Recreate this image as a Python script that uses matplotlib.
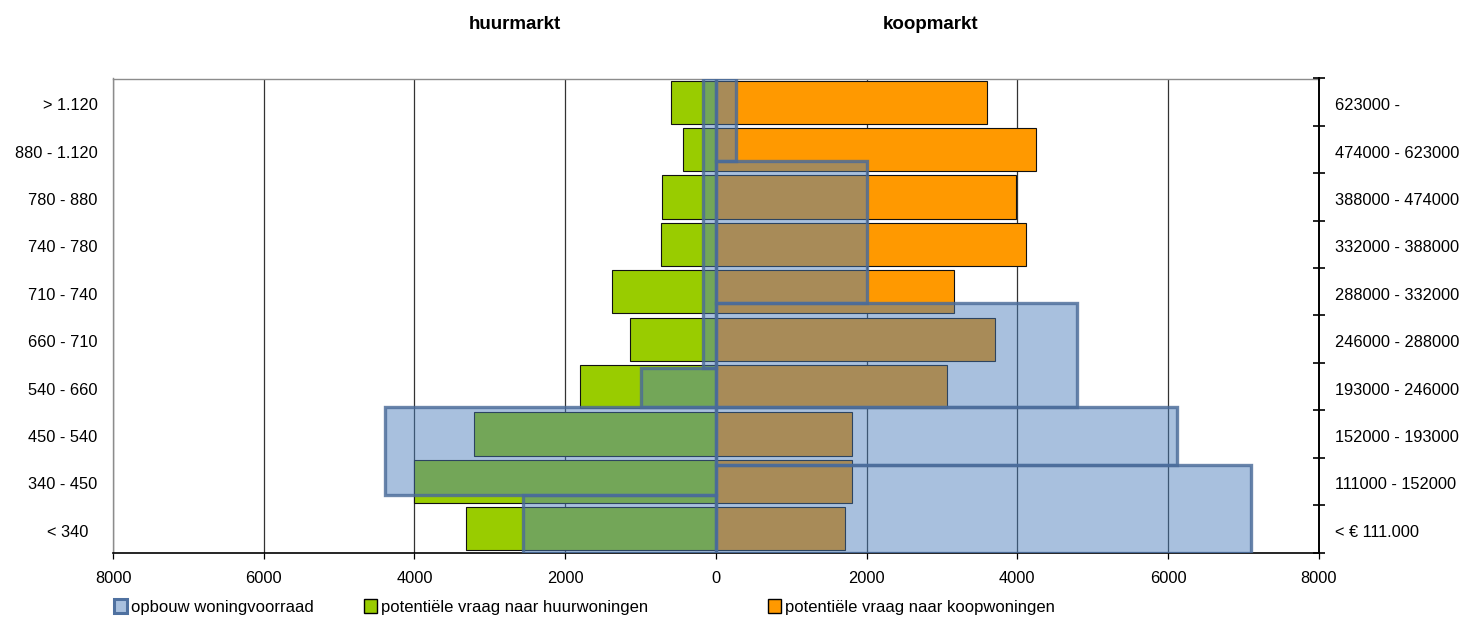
import numpy as np
import matplotlib
matplotlib.use("Agg")
import matplotlib.pyplot as plt
from matplotlib.patches import Patch
from matplotlib.transforms import ScaledTranslation

plt.rcParams['font.family'] = ['Liberation Sans', 'DejaVu Sans']

# Price classes, bottom to top
rent_classes = ["< 340", "340 - 450", "450 - 540", "540 - 660", "660 - 710",
                "710 - 740", "740 - 780", "780 - 880", "880 - 1.120", "> 1.120"]
buy_classes = ["< € 111.000", "111000 - 152000", "152000 - 193000", "193000 - 246000",
               "246000 - 288000", "288000 - 332000", "332000 - 388000",
               "388000 - 474000", "474000 - 623000", "623000 -"]

# Potential demand per class
rent_demand = [3320, 4010, 3210, 1800, 1140, 1380, 730, 720, 430, 600]
buy_demand = [1710, 1800, 1800, 3060, 3710, 3160, 4110, 3980, 4250, 3600]

# Existing housing stock, grouped in classes whose bounds are given in class-axis units
rent_stock = [2560, 4390, 1000, 170]
rent_stock_bounds = [0, 1.21, 3.08, 3.89, 10]
buy_stock = [7100, 6120, 4790, 2000, 270]
buy_stock_bounds = [0, 1.85, 3.08, 5.26, 8.27, 10]

x_ticks = [-8000, -6000, -4000, -2000, 0, 2000, 4000, 6000, 8000]

GREEN = "#99cc00"
ORANGE = "#ff9900"
STOCK_FACE = (0.29, 0.49, 0.73, 0.48)
STOCK_EDGE = (0.29, 0.42, 0.60, 0.82)

W, H = 1464, 619
fig = plt.figure(figsize=(W / 100, H / 100), dpi=100)
ax = fig.add_axes([113 / W, 1 - 552.5 / H, (1318.8 - 113) / W, (552.5 - 78.5) / H])

n = len(rent_classes)
centers = np.arange(n) + 0.5

# demand bars
ax.barh(centers, -np.array(rent_demand), height=0.909, color=GREEN,
        edgecolor="#111111", linewidth=0.8, zorder=2)
ax.barh(centers, buy_demand, height=0.909, color=ORANGE,
        edgecolor="#111111", linewidth=0.8, zorder=2)

# stock blocks, translucent on top
rb = np.array(rent_stock_bounds)
ax.barh(rb[:-1], -np.array(rent_stock), height=np.diff(rb), align="edge",
        facecolor=STOCK_FACE, edgecolor=STOCK_EDGE, linewidth=2.4, zorder=3)
bb = np.array(buy_stock_bounds)
ax.barh(bb[:-1], buy_stock, height=np.diff(bb), align="edge",
        facecolor=STOCK_FACE, edgecolor=STOCK_EDGE, linewidth=2.4, zorder=3)

ax.set_xlim(-8000, 8000)
ax.set_ylim(0, n)
ax.set_xticks(x_ticks)
ax.set_xticklabels([str(abs(v)) for v in x_ticks])
ax.xaxis.grid(True, color="#333333", linewidth=0.9)
ax.set_axisbelow(True)

ax.set_yticks(centers)
ax.set_yticklabels([c + "  " if c.startswith("<") else c for c in rent_classes])
ax.tick_params(axis="y", length=0, pad=11, labelsize=11.8)
ax.tick_params(axis="x", length=4, width=0.9, pad=9, labelsize=11.8, direction="out")

for side in ("top", "left"):
    ax.spines[side].set_color("#8c8c8c")
    ax.spines[side].set_linewidth(1.0)
ax.spines["bottom"].set_color("black")
ax.spines["bottom"].set_linewidth(1.2)
ax.spines["right"].set_visible(False)

ax2 = ax.twinx()
ax2.set_ylim(0, n)
ax2.set_yticks(centers)
ax2.set_yticklabels(buy_classes)
ax2.set_yticks(np.arange(n + 1), minor=True)
ax2.tick_params(axis="y", which="major", length=0, pad=12, labelsize=11.8)
ax2.tick_params(axis="y", which="minor", length=8, width=1.2, direction="inout")
for side in ("top", "left", "bottom"):
    ax2.spines[side].set_visible(False)
ax2.spines["right"].set_color("black")
ax2.spines["right"].set_linewidth(1.4)

# nudge class labels slightly down
shift = ScaledTranslation(0, -2 / 100, fig.dpi_scale_trans)
for lab in ax.get_yticklabels() + ax2.get_yticklabels():
    lab.set_transform(lab.get_transform() + shift)

fig.text(515 / W, 1 - 24.5 / H, "huurmarkt", ha="center", va="center",
         fontsize=13.5, fontweight="bold")
fig.text(931 / W, 1 - 24.5 / H, "koopmarkt", ha="center", va="center",
         fontsize=13.5, fontweight="bold")

legend_items = [
    (Patch(facecolor="#a8c0de", edgecolor="#4f71a0", linewidth=2.2), "opbouw woningvoorraad", 114),
    (Patch(facecolor=GREEN, edgecolor="black", linewidth=1.0), "potentiële vraag naar huurwoningen", 364),
    (Patch(facecolor=ORANGE, edgecolor="black", linewidth=1.0), "potentiële vraag naar koopwoningen", 768),
]
for handle, label, xpix in legend_items:
    fig.legend([handle], [label], loc="center left",
               bbox_to_anchor=(xpix / W, 1 - 607 / H), frameon=False,
               fontsize=12, handlelength=0.75, handleheight=0.9,
               handletextpad=0.25, borderpad=0, borderaxespad=0)

fig.savefig("out.png", dpi=100)
